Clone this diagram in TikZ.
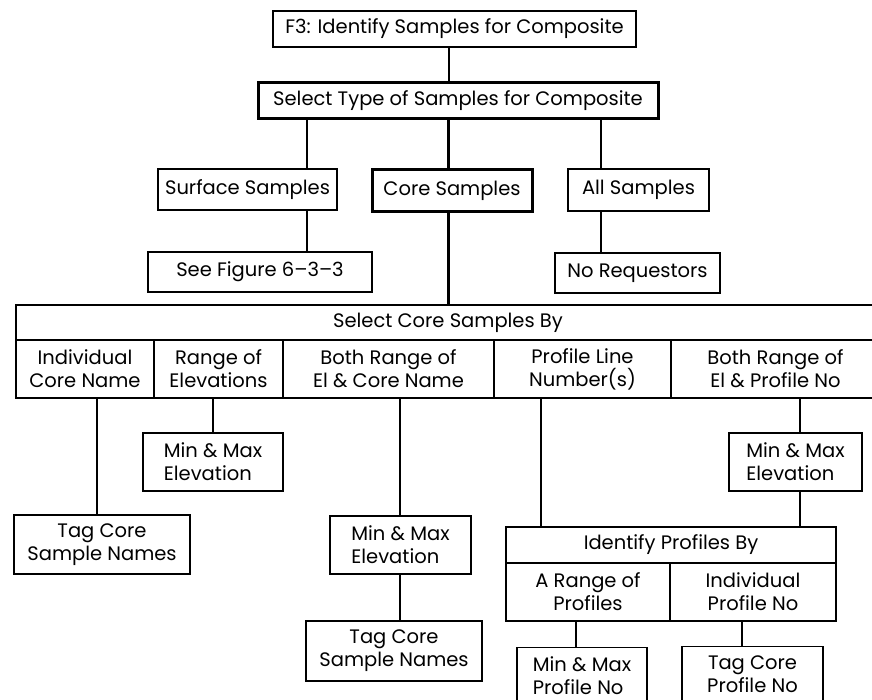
\documentclass[tikz,border=0pt]{standalone}
\usepackage{fontspec}
\setmainfont{Poppins}
\begin{document}
\begin{tikzpicture}[x=1pt,y=-1pt,
  every node/.style={font=\fontsize{19.5}{23}\selectfont},
  box/.style={draw, line width=1.3pt, inner sep=0pt, align=center},
  boxl/.style={box, align=left},
  boldbox/.style={box, line width=3pt},
  cell/.style={draw, line width=1.5pt, inner sep=0pt, align=center},
  link/.style={line width=1.3pt},
  boldlink/.style={line width=3pt}]
\useasboundingbox (0,0) rectangle (872,700);
\clip (0,0) rectangle (872,700);

% top
\node[box, minimum width=363pt, minimum height=36pt] (f3) at (454.5,29) {F3: Identify Samples for Composite};
\node[boldbox, minimum width=400pt, minimum height=36pt] (sel) at (458,101) {Select Type of Samples for Composite};

\node[box, minimum width=179pt, minimum height=41pt] (surf) at (247.5,189.5) {Surface Samples};
\node[boldbox, minimum width=160pt, minimum height=42pt] (core) at (452,191) {Core Samples};
\node[box, minimum width=141pt, minimum height=42pt] (all) at (638.5,190) {All Samples};

\node[box, minimum width=224pt, minimum height=40pt] (see) at (260,272) {See Figure 6--3--3};
\node[box, minimum width=165pt, minimum height=40pt] (noreq) at (637.5,273) {No Requestors};

% big table
\node[cell, line width=2.2pt, minimum width=864pt, minimum height=35pt] (hdr) at (448,322.5) {Select Core Samples By};
\node[cell, minimum width=138pt, minimum height=58pt] (c1) at (85,369) {Individual\\Core Name};
\node[cell, minimum width=129pt, minimum height=58pt] (c2) at (218.5,369) {Range of\\Elevations};
\node[cell, minimum width=211pt, minimum height=58pt] (c3) at (388.5,369) {Both Range of\\El \& Core Name};
\node[cell, minimum width=177pt, minimum height=58pt] (c4) at (582.5,369) {Profile Line\\Number(s)};
\node[cell, minimum width=209pt, minimum height=58pt] (c5) at (775.5,369) {Both Range of\\El \& Profile No};

% lower boxes
\node[box, minimum width=176pt, minimum height=59pt] (tag1) at (102,544.5) {Tag Core\\Sample Names};
\node[boxl, minimum width=140pt, minimum height=58pt] (mm1) at (213,462) {Min \& Max\\Elevation};
\node[boxl, minimum width=141pt, minimum height=58pt] (mm2) at (400.5,545) {Min \& Max\\Elevation};
\node[box, minimum width=176pt, minimum height=60pt] (tag2) at (394,651) {Tag Core\\Sample Names};
\node[boxl, minimum width=133pt, minimum height=58pt] (mm3) at (795.5,462) {Min \& Max\\Elevation};

% identify table
\node[cell, line width=1.3pt, minimum width=330pt, minimum height=36pt] (idh) at (671,545) {Identify Profiles By};
\node[cell, line width=1.3pt, minimum width=164pt, minimum height=58pt] (id1) at (588,592) {A Range of\\Profiles};
\node[cell, line width=1.3pt, minimum width=166pt, minimum height=58pt] (id2) at (753,592) {Individual\\Profile No};

\node[boxl, minimum width=130pt, minimum height=56pt, anchor=north] (mmp) at (582,647) {Min \& Max\\Profile No};
\node[box, minimum width=141pt, minimum height=56pt, anchor=north] (tcp) at (752.5,646) {Tag Core\\Profile No};

% connectors
\draw[link] (f3.south -| 449,0) -- (sel.north -| 449,0);
\draw[link] (sel.south -| 307,0) -- (surf.north -| 307,0);
\draw[boldlink] (sel.south -| 448,0) -- (core.north -| 448,0);
\draw[link] (sel.south -| 601,0) -- (all.north -| 601,0);
\draw[link] (surf.south -| 307,0) -- (see.north -| 307,0);
\draw[link] (all.south -| 601,0) -- (noreq.north -| 601,0);
\draw[boldlink] (core.south -| 448,0) -- (hdr.north -| 448,0);

\draw[link] (c1.south -| 97,0) -- (tag1.north -| 97,0);
\draw[link] (c2.south -| 213,0) -- (mm1.north -| 213,0);
\draw[link] (c3.south -| 400,0) -- (mm2.north -| 400,0);
\draw[link] (mm2.south -| 400,0) -- (tag2.north -| 400,0);
\draw[link] (c4.south -| 541,0) -- (idh.north -| 541,0);
\draw[link] (c5.south -| 800,0) -- (mm3.north -| 800,0);
\draw[link] (mm3.south -| 800,0) -- (idh.north -| 800,0);
\draw[link] (id1.south -| 576,0) -- (mmp.north -| 576,0);
\draw[link] (id2.south -| 742,0) -- (tcp.north -| 742,0);
\end{tikzpicture}
\end{document}
